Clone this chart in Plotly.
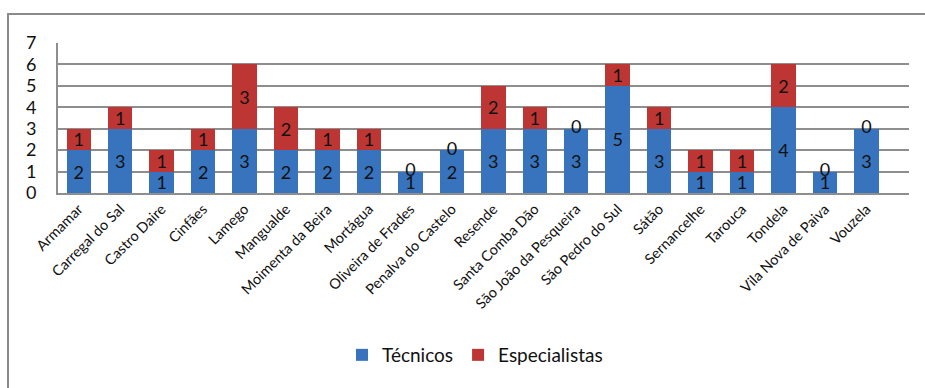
import plotly.graph_objects as go

# Municipalities and staff counts per category
concelhos = [
    "Armamar", "Carregal do Sal", "Castro Daire", "Cinfães", "Lamego",
    "Mangualde", "Moimenta da Beira", "Mortágua", "Oliveira de Frades",
    "Penalva do Castelo", "Resende", "Santa Comba Dão", "São João da Pesqueira",
    "São Pedro do Sul", "Sátão", "Sernancelhe", "Tarouca", "Tondela",
    "Vila Nova de Paiva", "Vouzela",
]
tecnicos = [2, 3, 1, 2, 3, 2, 2, 2, 1, 2, 3, 3, 3, 5, 3, 1, 1, 4, 1, 3]
especialistas = [1, 1, 1, 1, 3, 2, 1, 1, 0, 0, 2, 1, 0, 1, 1, 1, 1, 2, 0, 0]
y_ticks = [0, 1, 2, 3, 4, 5, 6, 7]

FONT = "Lato"
BLUE = "#3873bd"
RED = "#bd3634"
GRID = "#8e8e8e"

W, H = 925, 388
L, R, T, B = 58, 16, 43, 195

label_font = dict(family=FONT, size=18, color="#111111")

fig = go.Figure()

fig.add_trace(go.Bar(
    x=concelhos, y=tecnicos, name="Técnicos",
    marker=dict(color=BLUE, line=dict(width=0)),
    text=[str(v) if v else "" for v in tecnicos],
    textposition="inside", insidetextanchor="middle", textangle=0,
    textfont=label_font, constraintext="none",
))
fig.add_trace(go.Bar(
    x=concelhos, y=especialistas, name="Especialistas",
    marker=dict(color=RED, line=dict(width=0)),
    text=[str(v) if v else "" for v in especialistas],
    textposition="inside", insidetextanchor="middle", textangle=0,
    textfont=label_font, constraintext="none",
))

# Zero-valued "Especialistas" segments still carry a "0" label on the stack top
zero_x = [c for c, e in zip(concelhos, especialistas) if e == 0]
zero_y = [t for t, e in zip(tecnicos, especialistas) if e == 0]
fig.add_trace(go.Scatter(
    x=zero_x, y=zero_y, mode="text",
    text=["0"] * len(zero_x),
    textfont=label_font,
    showlegend=False, hoverinfo="skip",
))

# Outer chart frame
fig.add_shape(
    type="rect", xref="paper", yref="paper",
    x0=(8 - L) / (W - L - R), x1=(W + 10 - L) / (W - L - R),
    y0=(H - B - (H + 10)) / (H - T - B), y1=(H - B - 14) / (H - T - B),
    line=dict(color="#8a8a8a", width=2), fillcolor="rgba(0,0,0,0)",
    layer="below",
)

fig.update_layout(
    width=W, height=H,
    margin=dict(l=L, r=R, t=T, b=B),
    barmode="stack", bargap=0.41,
    paper_bgcolor="white", plot_bgcolor="white",
    font=dict(family=FONT, color="#111111"),
    showlegend=True,
    legend=dict(
        orientation="h", x=0.49, xanchor="center",
        y=(H - B - 355) / (H - T - B), yanchor="middle",
        font=dict(family=FONT, size=19, color="#111111"),
        itemwidth=30, traceorder="normal",
        bgcolor="rgba(0,0,0,0)",
    ),
    xaxis=dict(
        tickangle=-45, tickfont=dict(family=FONT, size=14.5, color="#111111"),
        showgrid=False, showline=True, linecolor=GRID, linewidth=2,
        ticks="", zeroline=False,
    ),
    yaxis=dict(
        range=[0, 7], tickvals=y_ticks,
        tickfont=dict(family=FONT, size=18, color="#111111"),
        showgrid=True, gridcolor=GRID, gridwidth=2,
        showline=True, linecolor=GRID, linewidth=2,
        ticks="", ticklabelstandoff=16, zeroline=False,
        mirror=False,
    ),
)

fig.write_html("out.html")
